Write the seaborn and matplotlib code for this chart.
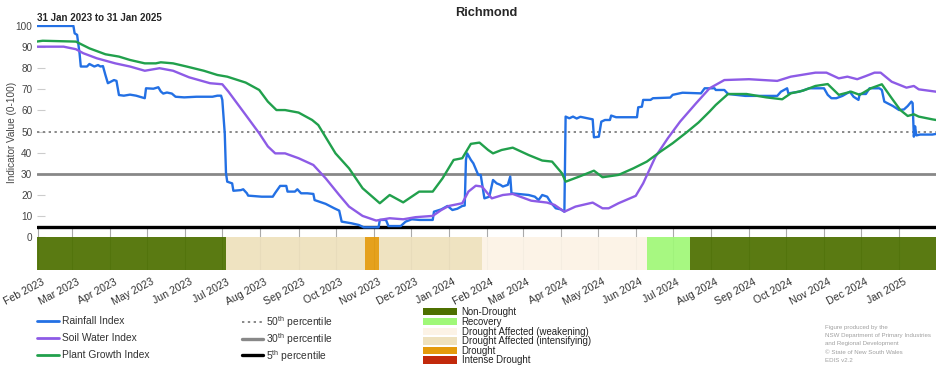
import pandas as pd
import matplotlib.pyplot as plt
from matplotlib.lines import Line2D
from matplotlib.patches import Rectangle
from matplotlib.transforms import ScaledTranslation
import seaborn as sns

# ---- data ----
rain_dates = ['2023-01-31', '2023-03-02', '2023-03-03', '2023-03-05', '2023-03-07', '2023-03-08', '2023-03-13',
              '2023-03-15', '2023-03-19', '2023-03-22', '2023-03-24', '2023-03-26', '2023-03-28', '2023-03-30',
              '2023-04-01', '2023-04-04', '2023-04-06', '2023-04-08', '2023-04-12', '2023-04-17', '2023-04-22',
              '2023-04-29', '2023-04-30', '2023-05-06', '2023-05-10', '2023-05-12', '2023-05-14', '2023-05-17',
              '2023-05-21', '2023-05-24', '2023-05-31', '2023-06-10', '2023-06-23', '2023-06-27', '2023-06-30',
              '2023-07-01', '2023-07-03', '2023-07-04', '2023-07-05', '2023-07-09', '2023-07-10', '2023-07-16',
              '2023-07-18', '2023-07-21', '2023-07-22', '2023-08-02', '2023-08-11', '2023-08-13', '2023-08-17',
              '2023-08-22', '2023-08-23', '2023-08-29', '2023-08-31', '2023-09-03', '2023-09-08', '2023-09-13',
              '2023-09-14', '2023-09-23', '2023-09-30', '2023-10-04', '2023-10-06', '2023-10-14', '2023-10-20',
              '2023-10-24', '2023-11-05', '2023-11-06', '2023-11-11', '2023-11-13', '2023-11-23', '2023-11-27',
              '2023-12-02', '2023-12-08', '2023-12-19', '2023-12-20', '2023-12-26', '2023-12-31', '2024-01-04',
              '2024-01-08', '2024-01-12', '2024-01-14', '2024-01-15', '2024-01-16', '2024-01-19', '2024-01-21',
              '2024-01-25', '2024-01-27', '2024-01-30', '2024-02-03', '2024-02-06', '2024-02-09', '2024-02-12',
              '2024-02-14', '2024-02-18', '2024-02-20', '2024-02-21', '2024-03-06', '2024-03-11', '2024-03-14',
              '2024-03-17', '2024-03-21', '2024-03-24', '2024-03-28', '2024-04-01', '2024-04-04', '2024-04-05',
              '2024-04-08', '2024-04-11', '2024-04-14', '2024-04-17', '2024-04-27', '2024-04-28', '2024-05-02',
              '2024-05-04', '2024-05-07', '2024-05-11', '2024-05-12', '2024-05-16', '2024-06-02', '2024-06-03',
              '2024-06-06', '2024-06-07', '2024-06-13', '2024-06-15', '2024-06-29', '2024-07-01', '2024-07-09',
              '2024-07-24', '2024-07-27', '2024-08-04', '2024-08-05', '2024-08-12', '2024-08-15', '2024-08-29',
              '2024-09-24', '2024-09-27', '2024-10-02', '2024-10-03', '2024-10-12', '2024-10-20', '2024-11-01',
              '2024-11-04', '2024-11-07', '2024-11-11', '2024-11-16', '2024-11-22', '2024-11-25', '2024-11-29',
              '2024-11-30', '2024-12-05', '2024-12-08', '2024-12-16', '2024-12-18', '2024-12-20', '2024-12-27',
              '2025-01-01', '2025-01-05', '2025-01-08', '2025-01-11', '2025-01-12', '2025-01-13', '2025-01-14',
              '2025-01-15', '2025-01-18', '2025-01-28', '2025-01-31']
rain_vals = [100, 100, 96.5, 95.8, 87, 80.8, 80.8,
             82, 80.8, 81.5, 80.8, 81, 76.8, 72.9,
             73.5, 74.4, 74, 67.3, 67, 67.5, 67,
             65.8, 70.5, 70.3, 71, 69, 68, 68.5,
             68, 66.5, 66.2, 66.5, 66.5, 67, 67,
             65, 49, 30.3, 26.3, 25.5, 22, 22.3,
             22.7, 20.8, 19.7, 19.2, 19.2, 21, 24.3,
             24.3, 21.6, 21.6, 22.7, 20.8, 20.8, 20.5,
             17.6, 15.8, 13.7, 12.6, 7.4, 6.6, 5.8,
             4.7, 4.7, 8.2, 8.2, 5.3, 5.3, 7.4,
             8.5, 8.2, 8.2, 12.1, 13.2, 14.8, 12.9,
             13.5, 14.8, 15, 36.6, 39.7, 36.6, 35,
             29.5, 29.5, 18.4, 19.2, 27.1, 25.5, 24.8,
             24, 24.8, 28.7, 20.8, 20, 19.2, 17.6,
             20, 19.2, 16.4, 13.7, 13.2, 12.1, 57.1,
             56.3, 57.1, 56.2, 57, 55.8, 47.3, 47.6,
             54.7, 55.5, 55.5, 57.6, 56.8, 56.8, 61.5,
             61.8, 65, 65, 65.8, 66.1, 67.4, 68.4,
             68.1, 70.5, 70.5, 69.7, 69.7, 67.8, 66.9,
             66.9, 68.9, 70.5, 68.1, 68.9, 70.5, 70.5,
             67.4, 65.8, 65.8, 66.9, 68.9, 66.5, 65,
             67.8, 67.8, 70.5, 70.5, 69.7, 64.2, 62.1,
             60.2, 60.5, 62.1, 64.2, 63.5, 47.6, 52.5,
             48.2, 48.6, 48.6, 48.9]

soil_dates = ['2023-01-31', '2023-02-22', '2023-03-04', '2023-03-10', '2023-03-21', '2023-04-05', '2023-04-17',
              '2023-04-29', '2023-05-11', '2023-05-22', '2023-06-04', '2023-06-21', '2023-07-01', '2023-07-06',
              '2023-07-20', '2023-07-31', '2023-08-07', '2023-08-13', '2023-08-21', '2023-09-01', '2023-09-13',
              '2023-09-23', '2023-10-04', '2023-10-12', '2023-10-23', '2023-11-03', '2023-11-14', '2023-11-25',
              '2023-12-05', '2023-12-19', '2023-12-26', '2024-01-01', '2024-01-12', '2024-01-17', '2024-01-23',
              '2024-01-28', '2024-02-05', '2024-02-14', '2024-02-22', '2024-03-08', '2024-03-21', '2024-03-27',
              '2024-04-04', '2024-04-13', '2024-04-27', '2024-05-05', '2024-05-10', '2024-05-18', '2024-06-01',
              '2024-06-07', '2024-06-17', '2024-06-27', '2024-07-07', '2024-07-20', '2024-07-31', '2024-08-12',
              '2024-09-01', '2024-09-24', '2024-10-05', '2024-10-25', '2024-11-03', '2024-11-13', '2024-11-20',
              '2024-11-28', '2024-12-05', '2024-12-12', '2024-12-17', '2024-12-26', '2025-01-07', '2025-01-13',
              '2025-01-17', '2025-01-31']
soil_vals = [90.2, 90.2, 89, 87.1, 84.7, 82.3, 80.8,
             78.8, 80, 78.8, 75.7, 72.9, 72.4, 68.9,
             57.9, 49.2, 43, 39.7, 39.7, 37.4, 34.2,
             27.9, 20, 14.5, 10.1, 7.9, 9, 8.5,
             9.5, 10.1, 12.9, 14.8, 16.1, 21.6, 24.4,
             24, 18.4, 20, 20.5, 17.3, 16.4, 15.3,
             12.1, 14.5, 16.4, 13.7, 13.7, 16.1, 19.6,
             25.5, 38.1, 46.8, 54.7, 63.4, 70.5, 74.4,
             74.8, 74, 76, 77.9, 77.9, 75.2, 76,
             74.8, 76.3, 77.9, 77.9, 73.6, 70.8, 71.6,
             70, 68.9]

plant_dates = ['2023-01-31', '2023-02-05', '2023-03-04', '2023-03-15', '2023-03-28', '2023-04-08', '2023-04-17',
               '2023-04-29', '2023-05-08', '2023-05-12', '2023-05-22', '2023-06-02', '2023-06-16', '2023-06-27',
               '2023-07-05', '2023-07-20', '2023-07-31', '2023-08-07', '2023-08-14', '2023-08-21', '2023-09-01',
               '2023-09-12', '2023-09-17', '2023-10-01', '2023-10-12', '2023-10-23', '2023-11-06', '2023-11-14',
               '2023-11-25', '2023-12-08', '2023-12-19', '2023-12-27', '2024-01-05', '2024-01-12', '2024-01-19',
               '2024-01-26', '2024-02-02', '2024-02-06', '2024-02-13', '2024-02-22', '2024-03-06', '2024-03-17',
               '2024-03-25', '2024-04-02', '2024-04-05', '2024-04-16', '2024-04-28', '2024-05-05', '2024-05-18',
               '2024-05-30', '2024-06-10', '2024-06-21', '2024-07-01', '2024-07-12', '2024-07-22', '2024-07-31',
               '2024-08-05', '2024-08-15', '2024-08-30', '2024-09-15', '2024-09-28', '2024-10-05', '2024-10-15',
               '2024-10-25', '2024-11-04', '2024-11-13', '2024-11-23', '2024-11-30', '2024-12-09', '2024-12-18',
               '2024-12-26', '2025-01-02', '2025-01-08', '2025-01-13', '2025-01-17', '2025-01-28', '2025-01-31']
plant_vals = [92.6, 93, 92.6, 89.4, 86.6, 85.5, 83.9,
              82.3, 82.3, 82.8, 82.3, 80.8, 78.8, 76.8,
              76, 73.2, 69.7, 64.2, 60.2, 60.2, 59,
              55.5, 53.1, 39.7, 32.6, 23.2, 16.1, 20,
              16.5, 21.6, 21.6, 27.9, 36.6, 37.4, 44.2,
              44.8, 41.3, 39.7, 41.3, 42.4, 38.9, 36.3,
              35.8, 30.3, 26.3, 28.7, 31.5, 28.4, 29.5,
              32.6, 35.8, 40.5, 44.5, 49.5, 54.3, 59.5,
              62.6, 67.8, 67.8, 66.2, 65.3, 68.1, 69.4,
              71.6, 72.5, 67.4, 68.9, 67.4, 70.5, 72.4,
              65.8, 60.2, 57.4, 58.2, 57.1, 55.8, 55.5]

series_names = ['Rainfall Index', 'Soil Water Index', 'Plant Growth Index']
series_colors = ['#2370e4', '#8d5be6', '#21a04c']

percentile_levels = [50, 30, 5]
percentile_names = ['50$^{\\rm th}$ percentile', '30$^{\\rm th}$ percentile', '5$^{\\rm th}$ percentile']

state_names = ['Non-Drought', 'Recovery', 'Drought Affected (weakening)',
               'Drought Affected (intensifying)', 'Drought', 'Intense Drought']
state_colors = ['#4d7000', '#a0f878', '#fcf3e6', '#eee1bd', '#e49a0b', '#c2290b']

period_start = ['2023-01-31', '2023-07-04', '2023-10-25', '2023-11-05', '2024-01-28', '2024-06-10', '2024-07-15']
period_end = ['2023-07-04', '2023-10-25', '2023-11-05', '2024-01-28', '2024-06-10', '2024-07-15', '2025-01-31']
period_state = ['Non-Drought', 'Drought Affected (intensifying)', 'Drought', 'Drought Affected (intensifying)',
                'Drought Affected (weakening)', 'Recovery', 'Non-Drought']

footnote = ['Figure produced by the', 'NSW Department of Primary Industries', 'and Regional Development',
            '\u00a9 State of New South Wales', 'EDIS v2.2']

# ---- style ----
sns.set_theme(style='white')
plt.rcParams['font.family'] = ['Liberation Sans', 'DejaVu Sans']
plt.rcParams['mathtext.fontset'] = 'custom'
plt.rcParams['mathtext.rm'] = 'Liberation Sans'

W, H = 952, 370


def fx(x):
    return x / W


def fy(y):
    return 1 - y / H


df = pd.concat([
    pd.DataFrame({'date': pd.to_datetime(d), 'value': v, 'index': n})
    for d, v, n in zip([rain_dates, soil_dates, plant_dates], [rain_vals, soil_vals, plant_vals], series_names)
])

fig = plt.figure(figsize=(W / 100, H / 100), dpi=100)
ax = fig.add_axes([fx(36.5), fy(270), fx(936) - fx(36.5), (270 - 24.9) / H])

t0, t1 = pd.Timestamp('2023-01-31'), pd.Timestamp('2025-01-31')
months = pd.date_range('2023-02-01', '2025-01-01', freq='MS')

# drought state bar below zero
ax.vlines(months, -15.5, 5, color='#aaaaaa', lw=0.8, zorder=1)
state_col = dict(zip(state_names, state_colors))
for s, e, st in zip(period_start, period_end, period_state):
    ax.fill_between([pd.Timestamp(s), pd.Timestamp(e)], -15.5, 0, color=state_col[st], lw=0, alpha=0.93, zorder=2)

# percentile lines
ax.axhline(percentile_levels[0], color='#888888', lw=1.4, ls=(0, (1.2, 1.8)), zorder=3)
ax.axhline(percentile_levels[1], color='#888888', lw=2, zorder=3)
ax.axhline(percentile_levels[2], color='black', lw=2.4, zorder=3)

sns.lineplot(data=df, x='date', y='value', hue='index', hue_order=series_names,
             palette=series_colors, estimator=None, lw=1.7, legend=False, ax=ax, zorder=4)

ax.set_xlim(t0, t1)
ax.set_ylim(-15.5, 100.5)
for sp in ax.spines.values():
    sp.set_visible(False)

ax.set_yticks(range(0, 101, 10))
ax.tick_params(axis='y', left=True, direction='in', length=6, width=0.8, color='#cccccc',
               labelsize=7.2, labelcolor='#444444', pad=3)
ax.set_xticks(months)
ax.set_xticklabels([m.strftime('%b %Y') for m in months], rotation=28, ha='right', rotation_mode='anchor')
ax.tick_params(axis='x', length=0, pad=5, labelsize=7.6, labelcolor='#333333')
for lab in ax.get_xticklabels():
    lab.set_transform(lab.get_transform() + ScaledTranslation(4 / 100, 0, fig.dpi_scale_trans))
ax.set_xlabel('')
ax.set_ylabel('')

fig.text(fx(12), fy(132), 'Indicator Value (0-100)', rotation=90, ha='center', va='center',
         fontsize=7.2, color='#444444')
fig.text(fx(486), fy(13), 'Richmond', ha='center', va='center', fontsize=9.2, fontweight='bold')
fig.text(fx(37), fy(18), '31 Jan 2023 to 31 Jan 2025', ha='left', va='center', fontsize=7, fontweight='bold')

# legends
for name, col, y in zip(series_names, series_colors, [321, 337.7, 354.7]):
    fig.add_artist(Line2D([fx(37.3), fx(59.3)], [fy(y), fy(y)], color=col, lw=2))
    fig.text(fx(61.7), fy(y), name, va='center', fontsize=7.4, color='#333333')

perc_styles = [dict(color='#888888', lw=1.4, ls=(0, (1.2, 1.8))), dict(color='#888888', lw=2.4),
               dict(color='black', lw=2.4)]
for name, sty, y in zip(percentile_names, perc_styles, [322, 339, 355.3]):
    fig.add_artist(Line2D([fx(241.7), fx(263.3)], [fy(y), fy(y)], **sty))
    fig.text(fx(266), fy(y + 0.5), name, va='center', fontsize=7.4, color='#333333')

for name, col, y in zip(state_names, state_colors, [311.7, 321.7, 331.7, 341, 350.7, 360]):
    fig.add_artist(Rectangle((fx(423.3), fy(y + 3.7)), fx(457.3) - fx(423.3), 7.4 / H,
                             transform=fig.transFigure, facecolor=col, edgecolor='none'))
    fig.text(fx(461.7), fy(y), name, va='center', fontsize=6.9, color='#222222')

for line, y in zip(footnote, [327.3, 335.3, 343.6, 352, 360.3]):
    fig.text(fx(825), fy(y), line, va='center', fontsize=4.4, color='#a0a0a0')

fig.savefig('out.png', dpi=100, facecolor='white')
